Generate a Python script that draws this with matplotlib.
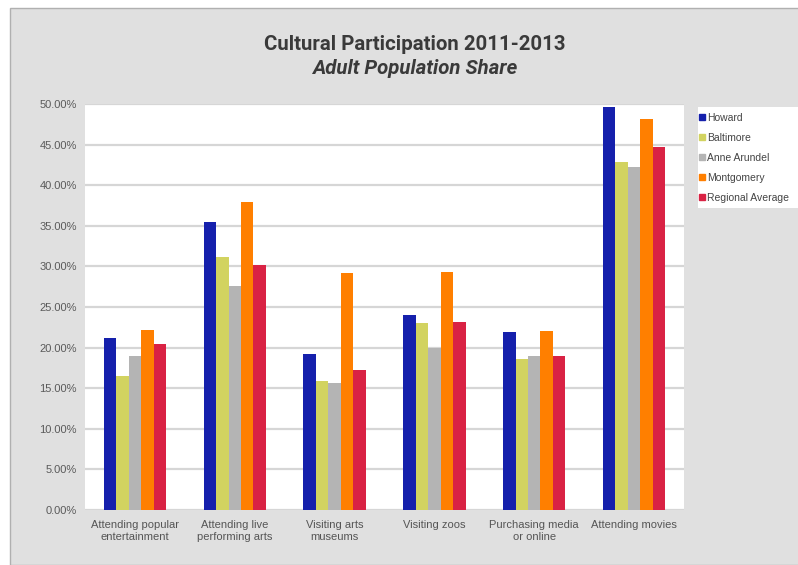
import matplotlib
matplotlib.use("Agg")
import matplotlib.pyplot as plt
import numpy as np
from matplotlib.patches import Rectangle
from matplotlib.ticker import FuncFormatter
from matplotlib.lines import Line2D

categories = ["Attending popular\nentertainment", "Attending live\nperforming arts",
              "Visiting arts\nmuseums", "Visiting zoos", "Purchasing media\nor online",
              "Attending movies"]
series_names = ["Howard", "Baltimore", "Anne Arundel", "Montgomery", "Regional Average"]
howard = [21.2, 35.5, 19.2, 24.0, 21.9, 49.6]
baltimore = [16.5, 31.1, 15.9, 23.0, 18.6, 42.9]
anne_arundel = [19.0, 27.6, 15.6, 19.9, 19.0, 42.3]
montgomery = [22.2, 37.9, 29.2, 29.3, 22.1, 48.2]
regional = [20.5, 30.2, 17.3, 23.2, 19.0, 44.7]
yticks = [0, 5, 10, 15, 20, 25, 30, 35, 40, 45, 50]

colors = ["#1520AC", "#D2D360", "#B4B4B4", "#FF7F00", "#D92244"]
series = [howard, baltimore, anne_arundel, montgomery, regional]

plt.rcParams['font.family'] = ['Liberation Sans', 'DejaVu Sans']

fig = plt.figure(figsize=(7.98, 5.65), dpi=100)
fig.patch.set_facecolor("white")
W, H = 798, 565
# gray background panel with border
fig.patches.append(Rectangle((10 / W, 0), 1, 1 - 8 / H, transform=fig.transFigure,
                             facecolor="#E0E0E0", edgecolor="#B0B0B0", linewidth=1, zorder=-5))
# legend box
fig.patches.append(Rectangle((698 / W, 1 - 208 / H), 100 / W, 101 / H, transform=fig.transFigure,
                             facecolor="white", edgecolor="none", zorder=-4))

ax = fig.add_axes([85 / W, 55 / H, 599 / W, 406 / H])
ax.set_zorder(2)
ax.set_facecolor("white")
n = len(series)
bw = 0.125
x = np.arange(len(categories))
for i, (vals, c, name) in enumerate(zip(series, colors, series_names)):
    ax.bar(x + (i - (n - 1) / 2) * bw, vals, width=bw, color=c, label=name, zorder=3,
           linewidth=0)

ax.set_xlim(-0.5, len(categories) - 0.5)
ax.set_ylim(0, 50)
ax.set_yticks(yticks)
ax.yaxis.set_major_formatter(FuncFormatter(lambda v, p: f"{v:.2f}%"))
ax.grid(axis="y", color="#D6D6D6", linewidth=1.6, zorder=1)
ax.set_axisbelow(True)
for s in ax.spines.values():
    s.set_visible(False)
ax.tick_params(axis="both", length=0, colors="#5A5A5A", pad=6)
ax.tick_params(axis="x", pad=7)
ax.set_xticks(x)
ax.set_xticklabels(categories, fontsize=8, color="#555555", linespacing=1.3)
for lab in ax.get_yticklabels():
    lab.set_fontsize(8)

fig.text(0.52, 1 - 45 / H, "Cultural Participation 2011-2013", ha="center", va="center",
         fontsize=14.7, color="#3A3A3A", family=["Roboto", "DejaVu Sans"], weight="bold")
fig.text(0.52, 1 - 68 / H, "Adult Population Share", ha="center", va="center",
         fontsize=14.7, color="#3A3A3A", family=["Roboto", "DejaVu Sans"], weight="bold",
         style="italic")

handles = [Line2D([], [], marker="s", linestyle="none", markersize=4, color=c) for c in colors]
leg = fig.legend(handles, series_names, loc="upper left", bbox_to_anchor=(697 / W, 1 - 111 / H),
                 frameon=False, fontsize=7.5, handlelength=0.5, handletextpad=0.25,
                 labelspacing=0.95, borderaxespad=0, borderpad=0.2)
for t in leg.get_texts():
    t.set_color("#444444")

fig.savefig("out.png", dpi=100, facecolor=fig.get_facecolor())
